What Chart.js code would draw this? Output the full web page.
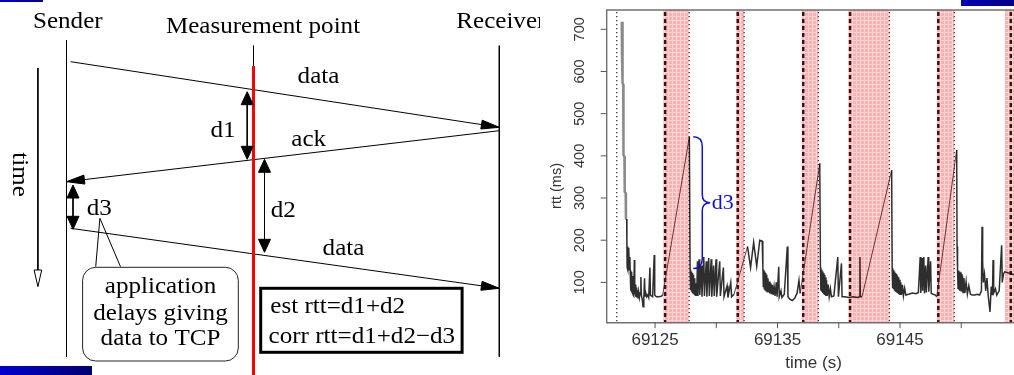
<!DOCTYPE html>
<html>
<head>
<meta charset="utf-8">
<script src="https://cdn.jsdelivr.net/npm/chart.js@4.4.1/dist/chart.umd.min.js"></script>
<style>
  html, body { margin: 0; padding: 0; background: #fff; width: 1014px; height: 375px; overflow: hidden; }
  #diagramWrap { position: absolute; left: 0; top: 0; width: 540px; height: 375px; }
  #rttWrap { position: absolute; left: 540px; top: 0; width: 474px; height: 375px; }
  .bar { position: absolute; }
</style>
</head>
<body>
<div id="diagramWrap"><canvas id="diagram"></canvas></div>
<div id="rttWrap"><canvas id="rttChart"></canvas></div>
<div class="bar" style="left:0;top:0;width:43px;height:2px;background:linear-gradient(90deg,#0000d0,#000090)"></div>
<div class="bar" style="left:0;top:366px;width:92px;height:9px;background:linear-gradient(90deg,#0000d0,#000070)"></div>
<div class="bar" style="left:961px;top:0;width:53px;height:6px;background:linear-gradient(90deg,#0000b8,#000088)"></div>
<script>
// ---------- left panel: timing diagram (units = diagram px) ----------
const lifelineNames = ["Sender", "Measurement point", "Receiver"];
const lifelineX = [66.5, 253.5, 499.3];
const lifelineTop = [40, 45.7, 45.7];
const lifelineBottom = [357, 66, 356.7];
const titleX = [67.8, 263, 456.3];
const titleY = [28, 33, 28];
const titleAlign = ["center", "center", "left"];

const redLineY = [66, 375];

const msgLabels = ["data", "ack", "data"];
const msgFromX = [70.6, 499.3, 70.6];
const msgFromY = [61.7, 130.7, 228.3];
const msgToX = [499.3, 66.5, 499.3];
const msgToY = [127.3, 181.7, 288.3];
const msgLabelX = [318.5, 308.7, 343.5];
const msgLabelY = [82.7, 145.7, 255];

const delayLabels = ["d1", "d2", "d3"];
const delayX = [247.2, 264.5, 73];
const delayTop = [91.7, 159.3, 185];
const delayBottom = [159.3, 252.3, 229.3];
const delayLabelX = [223, 283.2, 99.2];
const delayLabelY = [136.7, 217.3, 215];

const timeArrowX = 37.9;
const timeArrowY = [68, 286.7];

const noteLines = ["application", "delays giving", "data to TCP"];
const noteLineY = [293.3, 320, 345];
const noteBox = [82.6, 267.3, 238.3, 361];       // left, top, right, bottom
const pointerFrom = [99.9, 218.3];
const pointerToX = [95.7, 120.5];
const pointerToY = 266.7;

const formulaLines = ["est rtt=d1+d2", "corr rtt=d1+d2\u2212d3"];
const formulaLineX = [270.3, 268.6];
const formulaLineY = [313.3, 342.7];
const formulaBox = [260.7, 288.3, 462.1, 352.3];

// ---------- right panel: rtt trace ----------
const rttTime = [
  69122.28, 69122.30, 69122.33, 69122.36, 69122.40, 69122.42, 69122.50, 69122.52, 69122.60, 69122.62,
  69122.68, 69122.70, 69122.72, 69122.75, 69122.78, 69122.81, 69122.84, 69122.87, 69122.90, 69122.94,
  69122.97, 69123.00, 69123.03, 69123.06, 69123.09, 69123.12, 69123.15, 69123.18, 69123.21, 69123.24,
  69123.27, 69123.31, 69123.34, 69123.38, 69123.42, 69123.46, 69123.50, 69123.55, 69123.60, 69123.66,
  69123.72, 69123.78, 69123.84, 69123.88, 69123.95, 69124.02, 69124.08, 69124.14, 69124.18, 69124.25,
  69124.32, 69124.40, 69124.48, 69124.58, 69124.62, 69124.70, 69124.80, 69124.93, 69124.97, 69125.10,
  69125.30, 69125.50, 69125.62,
  69127.80, 69127.86, 69127.90, 69127.94, 69127.98, 69128.02, 69128.06, 69128.10, 69128.14, 69128.18,
  69128.22, 69128.26, 69128.30, 69128.35, 69128.40, 69128.46, 69128.50, 69128.60, 69128.65, 69128.78,
  69128.83, 69128.98, 69129.03, 69129.18, 69129.23, 69129.38, 69129.43, 69129.58, 69129.63, 69129.78,
  69129.83, 69129.98, 69130.03, 69130.28, 69130.33, 69130.58, 69130.63, 69130.88, 69130.95, 69131.18,
  69131.25, 69131.45,
  69132.55, 69132.80, 69133.05, 69133.30, 69133.55, 69133.75, 69133.80,
  69133.84, 69133.88, 69133.92, 69133.96, 69134.00, 69134.04, 69134.08, 69134.12, 69134.16, 69134.22,
  69134.27, 69134.33, 69134.38, 69134.45, 69134.50, 69134.58, 69134.64, 69134.72, 69134.80, 69134.90,
  69134.96, 69135.10, 69135.14, 69135.28, 69135.36, 69135.55, 69135.80, 69135.85, 69136.00, 69136.20,
  69136.40, 69136.60, 69136.75, 69136.85,
  69138.45, 69138.50, 69138.54, 69138.58, 69138.62, 69138.66, 69138.70, 69138.74, 69138.78, 69138.82,
  69138.86, 69138.90, 69138.95, 69139.00, 69139.06, 69139.14, 69139.22, 69139.32, 69139.40, 69139.60,
  69139.92, 69139.97, 69140.22, 69140.27, 69140.50, 69140.80, 69141.20, 69141.50, 69141.70, 69141.73,
  69141.76, 69141.90,
  69144.32, 69144.36, 69144.40, 69144.44, 69144.48, 69144.52, 69144.56, 69144.60, 69144.64, 69144.68,
  69144.72, 69144.76, 69144.80, 69144.85, 69144.90, 69144.95, 69145.00, 69145.06, 69145.12, 69145.20,
  69145.28, 69145.38, 69145.48, 69145.70, 69146.00, 69146.30, 69146.50, 69146.65, 69146.70, 69146.80,
  69146.85, 69146.95, 69147.00, 69147.10, 69147.15, 69147.30, 69147.35, 69147.50, 69147.55, 69147.70,
  69147.90, 69148.00,
  69149.63, 69149.66, 69149.70, 69149.74, 69149.78, 69149.82, 69149.86, 69149.90, 69149.94, 69149.98,
  69150.02, 69150.06, 69150.10, 69150.15, 69150.22, 69150.30, 69150.40, 69150.50, 69150.62, 69150.75,
  69150.90, 69151.10, 69151.30, 69151.50, 69151.65, 69151.70, 69151.75, 69151.80, 69151.90, 69152.00,
  69152.10, 69152.20, 69152.35, 69152.45, 69152.55, 69152.60, 69152.65, 69152.80, 69152.90, 69153.10,
  69153.30, 69153.35, 69153.45, 69153.55, 69154.00, 69154.30
];
const rttMs = [
  718, 640, 718, 572, 570, 402, 398, 315, 312, 252,
  250, 188, 135, 185, 130, 182, 128, 175, 132, 160,
  128, 110, 80, 125, 76, 115, 72, 100, 70, 95,
  68, 153, 72, 95, 66, 88, 64, 82, 62, 78,
  64, 75, 113, 70, 60, 42, 62, 110, 68, 74,
  66, 70, 64, 135, 70, 68, 66, 165, 70, 66,
  66, 67, 70,
  445, 130, 82, 126, 78, 122, 74, 118, 72, 110,
  70, 104, 68, 98, 68, 150, 68, 155, 70, 140,
  66, 160, 68, 150, 66, 158, 68, 155, 66, 140,
  68, 155, 66, 150, 68, 135, 66, 92, 64, 100,
  66, 72,
  185, 135, 195, 138, 200, 198, 137,
  90, 130, 85, 126, 82, 122, 80, 118, 78, 110,
  76, 102, 74, 98, 72, 94, 70, 90, 68, 100,
  66, 137, 66, 80, 64, 72, 185, 66, 60, 57,
  62, 75, 105, 74,
  382, 135, 80, 130, 78, 126, 75, 122, 72, 118,
  70, 112, 68, 105, 68, 95, 66, 85, 66, 68,
  160, 66, 145, 66, 66, 64, 66, 64, 66, 160,
  66, 66,
  366, 134, 86, 130, 84, 126, 80, 122, 78, 120,
  76, 116, 74, 112, 72, 106, 70, 100, 70, 94,
  68, 86, 70, 72, 75, 73, 76, 160, 75, 158,
  80, 160, 74, 140, 76, 160, 78, 150, 74, 72,
  70, 66,
  414, 185, 130, 86, 128, 84, 126, 82, 124, 80,
  120, 78, 116, 76, 110, 75, 102, 72, 92, 72,
  70, 70, 72, 70, 80, 232, 150, 100, 120, 80,
  110, 70, 30, 90, 70, 153, 75, 85, 70, 80,
  188, 100, 120, 125, 121, 118
];
const xTickValues = [69125, 69130, 69135, 69140, 69145, 69150];
const xTickLabels = ["69125", "", "69135", "", "69145", ""];
const yTickValues = [100, 200, 300, 400, 500, 600, 700];
const shadeStart = [69125.68, 69131.61, 69136.98, 69140.78, 69148.0, 69153.57];
const shadeEnd = [69127.78, 69132.27, 69138.33, 69144.13, 69149.43, 69156.0];
const dashedAt = [69125.82, 69131.75, 69137.1, 69140.92, 69148.13, 69154.05];
const dottedAt = [69121.87, 69127.78, 69132.27, 69138.33, 69144.13, 69149.43];
const braceAt = [69128.12, 445, 133];   // time, top ms, bottom ms

const SERIF = "23px 'Liberation Serif'";
const SERIF_SX = 1.09;

function drawText(ctx, s, x, y, opts) {
  ctx.save();
  ctx.translate(x, y);
  if (opts.rot) ctx.rotate(opts.rot);
  ctx.scale(opts.sx || 1, 1);
  ctx.font = opts.font;
  ctx.fillStyle = opts.color || "#000";
  ctx.textAlign = opts.align || "center";
  ctx.textBaseline = opts.baseline || "alphabetic";
  ctx.fillText(s, 0, 0);
  ctx.restore();
}

function arrowHead(ctx, tipX, tipY, fromX, fromY, len, half, filled) {
  const a = Math.atan2(tipY - fromY, tipX - fromX);
  const bx = tipX - len * Math.cos(a), by = tipY - len * Math.sin(a);
  const nx = -Math.sin(a) * half, ny = Math.cos(a) * half;
  ctx.beginPath();
  ctx.moveTo(tipX, tipY);
  ctx.lineTo(bx + nx, by + ny);
  ctx.lineTo(bx - nx, by - ny);
  ctx.closePath();
  ctx.fillStyle = filled ? "#000" : "#fff";
  ctx.fill();
  ctx.strokeStyle = "#000";
  ctx.lineWidth = 1;
  ctx.stroke();
}

function seg(x0, y0, x1, y1, color, width) {
  return {
    data: [{ x: x0, y: y0 }, { x: x1, y: y1 }],
    showLine: true, pointRadius: 0, borderColor: color || "#000", borderWidth: width || 1, fill: false
  };
}

const diagramDatasets = [];
lifelineX.forEach((x, i) => diagramDatasets.push(seg(x, lifelineTop[i], x, lifelineBottom[i])));
diagramDatasets.push(seg(lifelineX[1], redLineY[0], lifelineX[1], redLineY[1], "#ff0000", 3));
msgFromX.forEach((x, i) => diagramDatasets.push(seg(x, msgFromY[i], msgToX[i], msgToY[i])));
delayX.forEach((x, i) => diagramDatasets.push(seg(x, delayTop[i] + 8, x, delayBottom[i] - 8)));
diagramDatasets.push(seg(timeArrowX, timeArrowY[0], timeArrowX, timeArrowY[1] - 16));
pointerToX.forEach((x) => diagramDatasets.push(seg(pointerFrom[0], pointerFrom[1], x, pointerToY)));

const diagramDecor = {
  id: "diagramDecor",
  afterDatasetsDraw(chart) {
    const ctx = chart.ctx;
    const px = (v) => chart.scales.x.getPixelForValue(v);
    const py = (v) => chart.scales.y.getPixelForValue(v);

    lifelineNames.forEach((s, i) =>
      drawText(ctx, s, px(titleX[i]), py(titleY[i]), { font: SERIF, sx: SERIF_SX, align: titleAlign[i] }));

    msgFromX.forEach((x, i) => {
      arrowHead(ctx, px(msgToX[i]), py(msgToY[i]), px(x), py(msgFromY[i]), 18, 4.5, true);
      drawText(ctx, msgLabels[i], px(msgLabelX[i]), py(msgLabelY[i]), { font: SERIF, sx: SERIF_SX });
    });

    delayX.forEach((x, i) => {
      arrowHead(ctx, px(x), py(delayTop[i]), px(x), py(delayBottom[i]), 13, 6, true);
      arrowHead(ctx, px(x), py(delayBottom[i]), px(x), py(delayTop[i]), 13, 6, true);
      drawText(ctx, delayLabels[i], px(delayLabelX[i]), py(delayLabelY[i]), { font: SERIF, sx: SERIF_SX });
    });

    // time arrow (open head) and label
    arrowHead(ctx, px(timeArrowX), py(timeArrowY[1]), px(timeArrowX), py(timeArrowY[0]), 16.7, 3.8, false);
    drawText(ctx, "time", px(18.9), py(174.5), { font: SERIF, sx: SERIF_SX, rot: Math.PI / 2, baseline: "middle" });

    // rounded note box
    ctx.save();
    ctx.beginPath();
    ctx.roundRect(px(noteBox[0]), py(noteBox[1]), px(noteBox[2]) - px(noteBox[0]), py(noteBox[3]) - py(noteBox[1]), 13);
    ctx.fillStyle = "#fff";
    ctx.fill();
    ctx.strokeStyle = "#222";
    ctx.lineWidth = 1;
    ctx.stroke();
    ctx.restore();
    noteLines.forEach((s, i) =>
      drawText(ctx, s, px(160.5), py(noteLineY[i]), { font: SERIF, sx: SERIF_SX }));

    // formula box
    ctx.save();
    ctx.strokeStyle = "#000";
    ctx.lineWidth = 3;
    ctx.strokeRect(px(formulaBox[0]), py(formulaBox[1]), px(formulaBox[2]) - px(formulaBox[0]), py(formulaBox[3]) - py(formulaBox[1]));
    ctx.restore();
    formulaLines.forEach((s, i) =>
      drawText(ctx, s, px(formulaLineX[i]), py(formulaLineY[i]), { font: SERIF, sx: SERIF_SX, align: "left" }));
  }
};

new Chart(document.getElementById("diagram"), {
  type: "scatter",
  data: { datasets: diagramDatasets },
  options: {
    animation: false,
    responsive: true,
    maintainAspectRatio: false,
    events: [],
    layout: { padding: 0 },
    scales: {
      x: { type: "linear", min: 0, max: 540, display: false },
      y: { type: "linear", min: 0, max: 375, reverse: true, display: false }
    },
    plugins: { legend: { display: false }, tooltip: { enabled: false } }
  },
  plugins: [diagramDecor]
});

function pinkPattern(ctx) {
  const c = document.createElement("canvas");
  c.width = 4;
  c.height = 4;
  const g = c.getContext("2d");
  g.fillStyle = "#ffb0b0";
  g.fillRect(0, 0, 4, 4);
  g.fillStyle = "#ffd6d6";
  g.fillRect(0, 0, 4, 1);
  g.fillRect(0, 0, 1, 4);
  return ctx.createPattern(c, "repeat");
}

const rttDecor = {
  id: "rttDecor",
  beforeDatasetsDraw(chart) {
    const { ctx, chartArea: a, scales: { x } } = chart;
    ctx.save();
    ctx.beginPath();
    ctx.rect(a.left, a.top, a.right - a.left, a.bottom - a.top);
    ctx.clip();
    ctx.fillStyle = pinkPattern(ctx);
    shadeStart.forEach((s, i) => {
      const x0 = x.getPixelForValue(s), x1 = x.getPixelForValue(shadeEnd[i]);
      ctx.fillRect(x0, a.top, x1 - x0, a.bottom - a.top);
    });
    ctx.setLineDash([4, 3]);
    ctx.lineWidth = 2.5;
    ctx.strokeStyle = "#3a1212";
    dashedAt.forEach((t) => {
      const p = x.getPixelForValue(t);
      ctx.beginPath(); ctx.moveTo(p, a.top + 2); ctx.lineTo(p, a.bottom); ctx.stroke();
    });
    ctx.setLineDash([1.2, 2.8]);
    ctx.lineWidth = 1.3;
    ctx.strokeStyle = "#333";
    dottedAt.forEach((t) => {
      const p = x.getPixelForValue(t);
      ctx.beginPath(); ctx.moveTo(p, a.top + 2); ctx.lineTo(p, a.bottom); ctx.stroke();
    });
    ctx.restore();
  },
  afterDatasetsDraw(chart) {
    const { ctx, chartArea: a, scales: { x, y } } = chart;
    ctx.save();
    // box (left, top, bottom)
    ctx.strokeStyle = "#707070";
    ctx.lineWidth = 1.4;
    ctx.beginPath();
    ctx.moveTo(a.right + 2, a.top);
    ctx.lineTo(a.left, a.top);
    ctx.lineTo(a.left, a.bottom);
    ctx.lineTo(a.right + 2, a.bottom);
    ctx.stroke();
    // ticks
    ctx.lineWidth = 1;
    ctx.strokeStyle = "#555";
    xTickValues.forEach((v, i) => {
      const p = x.getPixelForValue(v);
      ctx.beginPath(); ctx.moveTo(p, a.bottom); ctx.lineTo(p, a.bottom + 5.5); ctx.stroke();
      if (xTickLabels[i]) drawText(ctx, xTickLabels[i], p, a.bottom + 17.5, { font: "17px 'Liberation Sans'", color: "#333", baseline: "middle" });
    });
    yTickValues.forEach((v) => {
      const p = y.getPixelForValue(v);
      ctx.beginPath(); ctx.moveTo(a.left - 6, p); ctx.lineTo(a.left, p); ctx.stroke();
      drawText(ctx, String(v), a.left - 26.5, p, { font: "14.5px 'Liberation Sans'", color: "#333", rot: -Math.PI / 2, baseline: "middle" });
    });
    drawText(ctx, "time (s)", a.left + 206.8, a.bottom + 40.5, { font: "17px 'Liberation Sans'", color: "#333", baseline: "middle" });
    drawText(ctx, "rtt (ms)", a.left - 49.5, (y.getPixelForValue(400) + y.getPixelForValue(300)) / 2 + 9, { font: "14.5px 'Liberation Sans'", color: "#333", rot: -Math.PI / 2, baseline: "middle" });

    // d3 brace
    const bx = x.getPixelForValue(braceAt[0]);
    const top = y.getPixelForValue(braceAt[1]);
    const bot = y.getPixelForValue(braceAt[2]);
    const mid = (top + bot) / 2;
    ctx.strokeStyle = "#1010d0";
    ctx.lineWidth = 1.5;
    ctx.beginPath();
    ctx.moveTo(bx, top);
    ctx.quadraticCurveTo(bx + 9, top, bx + 9, top + 10);
    ctx.lineTo(bx + 9, mid - 8);
    ctx.quadraticCurveTo(bx + 9, mid, bx + 17, mid);
    ctx.quadraticCurveTo(bx + 9, mid, bx + 9, mid + 8);
    ctx.lineTo(bx + 9, bot - 10);
    ctx.quadraticCurveTo(bx + 9, bot, bx, bot);
    ctx.stroke();
    drawText(ctx, "d3", bx + 18.4, mid + 6, { font: "22px 'Liberation Serif'", color: "#1010d0", align: "left" });
    ctx.restore();
  }
};

// long gaps (the ramps across the shaded periods) are drawn thin, the first tall spike in grey
const isRamp = (c) => c.p1.parsed.x - c.p0.parsed.x > 0.5;
const isStartSpike = (c) => c.p0.parsed.y > 240 && c.p1.parsed.y > 240 && c.p0.parsed.x < 69123;

new Chart(document.getElementById("rttChart"), {
  type: "line",
  data: {
    datasets: [{
      data: rttTime.map((t, i) => ({ x: t, y: rttMs[i] })),
      borderColor: "rgba(0,0,0,0.82)",
      borderWidth: 1.5,
      pointRadius: 0,
      tension: 0,
      fill: false,
      segment: {
        borderWidth: (c) => (isRamp(c) ? 1 : isStartSpike(c) ? 2.5 : undefined),
        borderColor: (c) => (isRamp(c) ? "rgba(70,30,30,0.85)" : isStartSpike(c) ? "#8a8a8a" : undefined)
      }
    }]
  },
  options: {
    animation: false,
    responsive: true,
    maintainAspectRatio: false,
    events: [],
    layout: { padding: { left: 66.7, top: 10, right: 0, bottom: 52.3 } },
    scales: {
      x: { type: "linear", min: 69121.05, max: 69154.31, display: false },
      y: { type: "linear", min: 4.4, max: 745.8, display: false }
    },
    plugins: { legend: { display: false }, tooltip: { enabled: false } }
  },
  plugins: [rttDecor]
});
</script>
</body>
</html>
